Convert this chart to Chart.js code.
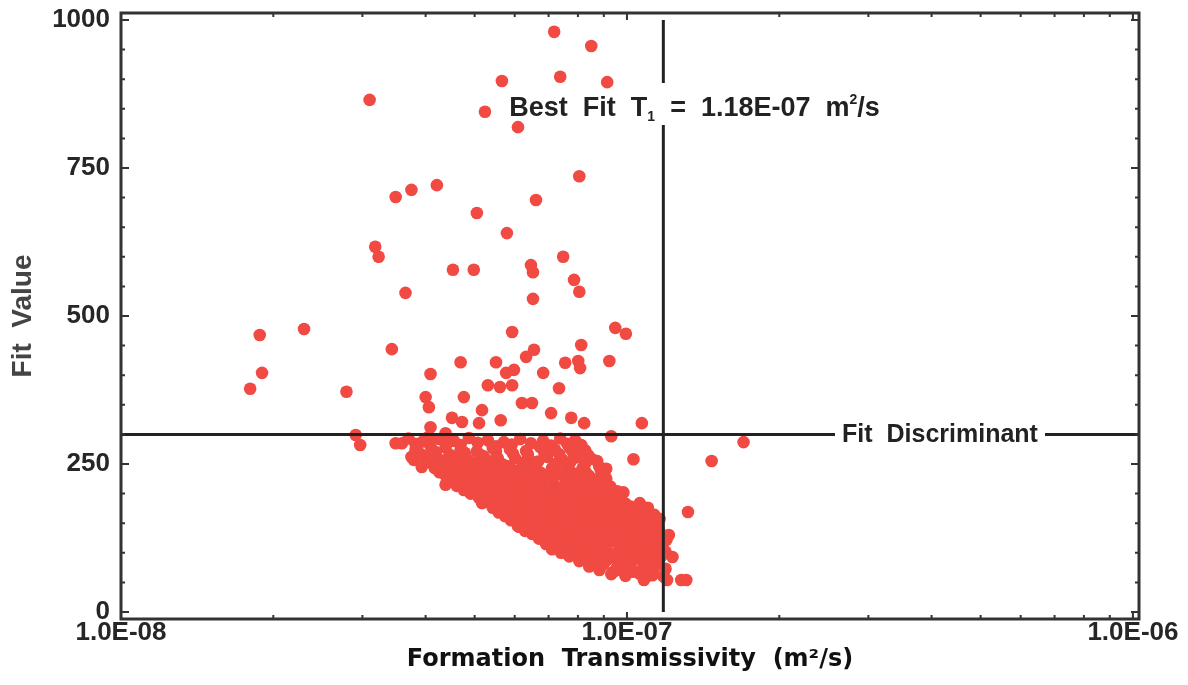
<!DOCTYPE html>
<html>
<head>
<meta charset="utf-8">
<script src="https://cdn.jsdelivr.net/npm/chart.js@4.4.0/dist/chart.umd.min.js"></script>
<style>
  html, body { margin: 0; padding: 0; background: #fff; }
</style>
</head>
<body>
<canvas id="grafico" width="1188" height="685"></canvas>
<script>
// axis ticks
const xTickValues = [1e-8, 1e-7, 1e-6];
const xTickLabels = ['1.0E-08', '1.0E-07', '1.0E-06'];
const yTickValues = [0, 250, 500, 750, 1000];

// reference lines
const bestFitT = 1.18e-7;
const fitDiscriminant = 300;

// scattered runs (m2/s, fit value)
const outlierT = [
  7.18e-8, 8.50e-8, 5.66e-8, 7.38e-8, 9.14e-8, 3.10e-8, 5.24e-8, 6.09e-8, 8.05e-8, 4.21e-8,
  3.75e-8, 3.49e-8, 6.61e-8, 5.05e-8, 5.79e-8, 3.18e-8, 3.23e-8, 7.48e-8, 4.53e-8, 4.98e-8,
  6.46e-8, 6.52e-8, 7.86e-8, 8.05e-8, 3.65e-8, 6.52e-8, 1.88e-8, 2.30e-8, 1.90e-8, 1.80e-8,
  3.43e-8, 2.79e-8, 5.93e-8, 9.48e-8, 9.95e-8, 8.12e-8, 4.69e-8, 5.51e-8, 6.55e-8, 6.32e-8,
  7.55e-8, 8.01e-8, 8.08e-8, 9.23e-8, 4.09e-8, 5.77e-8, 5.98e-8, 6.83e-8, 5.31e-8, 5.61e-8,
  5.93e-8, 7.34e-8, 4.00e-8, 4.76e-8, 4.06e-8, 5.17e-8, 5.63e-8, 5.10e-8, 4.51e-8, 4.72e-8,
  4.09e-8, 2.91e-8, 2.97e-8, 3.49e-8, 3.82e-8, 3.79e-8, 4.06e-8, 4.38e-8, 7.76e-8, 8.23e-8,
  1.07e-7, 9.31e-8, 1.70e-7, 1.47e-7, 1.03e-7, 9.10e-8, 1.32e-7, 1.06e-7, 1.10e-7, 1.21e-7,
  1.23e-7, 1.28e-7, 1.31e-7, 1.20e-7, 1.08e-7, 1.03e-7, 3.59e-8, 6.20e-8, 6.49e-8, 7.08e-8,
  3.75e-8, 3.93e-8, 4.38e-8, 4.80e-8, 5.17e-8, 6.12e-8, 7.24e-8, 8.31e-8, 9.53e-8, 1.09e-7
];
const outlierFit = [
  980, 956, 897, 904, 895, 865, 845, 819, 736, 721,
  713, 701, 696, 674, 640, 617, 600, 600, 578, 578,
  586, 574, 561, 541, 539, 529, 468, 478, 404, 377,
  444, 372, 473, 480, 470, 451, 422, 422, 443, 431,
  421, 424, 412, 424, 402, 404, 409, 404, 383, 380,
  383, 378, 363, 363, 346, 341, 324, 319, 328, 321,
  312, 299, 282, 285, 274, 257, 296, 302, 328, 319,
  319, 297, 287, 255, 258, 242, 169, 184, 176, 130,
  93, 54, 54, 54, 54, 68, 285, 353, 353, 336,
  262, 245, 215, 206, 184, 144, 110, 93, 71, 59
];

// dense band of runs
const cloudT = [
  3.70e-8, 3.95e-8, 4.26e-8, 4.55e-8, 4.87e-8, 5.31e-8, 5.71e-8, 6.15e-8, 6.83e-8, 7.38e-8, 7.90e-8,
  3.82e-8, 4.09e-8, 4.40e-8, 4.69e-8, 5.07e-8, 5.51e-8, 5.92e-8, 6.46e-8, 7.08e-8, 7.62e-8, 8.12e-8,
  3.84e-8, 4.11e-8, 4.38e-8, 4.69e-8, 5.05e-8, 5.43e-8, 5.87e-8, 6.32e-8, 6.73e-8, 7.21e-8, 7.72e-8, 8.27e-8,
  3.91e-8, 4.19e-8, 4.46e-8, 4.78e-8, 5.14e-8, 5.51e-8, 5.95e-8, 6.37e-8, 6.86e-8, 7.34e-8, 7.83e-8, 8.38e-8,
  3.98e-8, 4.25e-8, 4.53e-8, 4.85e-8, 5.21e-8, 5.56e-8, 6.01e-8, 6.43e-8, 6.95e-8, 7.44e-8, 7.94e-8, 8.50e-8,
  4.07e-8, 4.34e-8, 4.65e-8, 4.98e-8, 5.33e-8, 5.69e-8, 6.23e-8, 6.67e-8, 7.21e-8, 7.72e-8, 8.27e-8, 8.73e-8,
  4.17e-8, 4.44e-8, 4.76e-8, 5.10e-8, 5.43e-8, 5.82e-8, 6.20e-8, 6.61e-8, 7.11e-8, 7.62e-8, 8.16e-8, 8.82e-8,
  4.26e-8, 4.55e-8, 4.87e-8, 5.21e-8, 5.56e-8, 5.95e-8, 6.34e-8, 6.76e-8, 7.24e-8, 7.76e-8, 8.27e-8, 8.90e-8,
  4.38e-8, 4.67e-8, 5.00e-8, 5.33e-8, 5.69e-8, 6.06e-8, 6.49e-8, 6.92e-8, 7.38e-8, 7.86e-8, 8.42e-8, 8.98e-8,
  4.50e-8, 4.80e-8, 5.12e-8, 5.48e-8, 5.84e-8, 6.23e-8, 6.70e-8, 7.11e-8, 7.58e-8, 8.08e-8, 8.62e-8, 9.10e-8,
  4.61e-8, 4.94e-8, 5.26e-8, 5.61e-8, 5.98e-8, 6.34e-8, 6.76e-8, 7.21e-8, 7.69e-8, 8.19e-8, 8.73e-8, 9.27e-8,
  4.76e-8, 5.10e-8, 5.43e-8, 5.79e-8, 6.17e-8, 6.55e-8, 6.98e-8, 7.44e-8, 7.94e-8, 8.46e-8, 9.02e-8, 9.57e-8,
  4.91e-8, 5.24e-8, 5.58e-8, 5.95e-8, 6.34e-8, 6.76e-8, 7.21e-8, 7.69e-8, 8.19e-8, 8.73e-8, 9.35e-8, 9.84e-8,
  5.10e-8, 5.43e-8, 5.79e-8, 6.17e-8, 6.58e-8, 7.02e-8, 7.48e-8, 7.97e-8, 8.50e-8, 9.06e-8, 9.61e-8,
  5.26e-8, 5.61e-8, 5.98e-8, 6.37e-8, 6.79e-8, 7.24e-8, 7.72e-8, 8.23e-8, 8.77e-8, 9.31e-8, 9.93e-8,
  5.43e-8, 5.79e-8, 6.17e-8, 6.58e-8, 7.02e-8, 7.44e-8, 7.94e-8, 8.46e-8, 9.02e-8, 9.57e-8, 1.016e-7, 1.078e-7,
  5.58e-8, 5.95e-8, 6.34e-8, 6.76e-8, 7.21e-8, 7.65e-8, 8.16e-8, 8.70e-8, 9.23e-8, 9.84e-8, 1.039e-7, 1.108e-7,
  5.74e-8, 6.12e-8, 6.52e-8, 6.95e-8, 7.38e-8, 7.86e-8, 8.38e-8, 8.94e-8, 9.48e-8, 1.006e-7, 1.068e-7, 1.133e-7,
  5.90e-8, 6.29e-8, 6.70e-8, 7.14e-8, 7.58e-8, 8.08e-8, 8.62e-8, 9.14e-8, 9.70e-8, 1.029e-7, 1.098e-7, 1.160e-7,
  6.09e-8, 6.49e-8, 6.92e-8, 7.34e-8, 7.83e-8, 8.34e-8, 8.86e-8, 9.40e-8, 9.97e-8, 1.063e-7, 1.123e-7,
  6.29e-8, 6.70e-8, 7.14e-8, 7.58e-8, 8.08e-8, 8.58e-8, 9.14e-8, 9.70e-8, 1.029e-7, 1.093e-7, 1.155e-7,
  6.49e-8, 6.92e-8, 7.38e-8, 7.83e-8, 8.31e-8, 8.86e-8, 9.40e-8, 9.97e-8, 1.058e-7, 1.123e-7, 1.176e-7,
  6.70e-8, 7.14e-8, 7.58e-8, 8.05e-8, 8.58e-8, 9.10e-8, 9.66e-8, 1.025e-7, 1.088e-7, 1.155e-7, 1.197e-7,
  6.92e-8, 7.38e-8, 7.83e-8, 8.31e-8, 8.86e-8, 9.40e-8, 9.97e-8, 1.058e-7, 1.123e-7, 1.176e-7,
  7.11e-8, 7.58e-8, 8.05e-8, 8.58e-8, 9.10e-8, 9.66e-8, 1.025e-7, 1.088e-7, 1.155e-7,
  7.41e-8, 7.90e-8, 8.38e-8, 8.90e-8, 9.44e-8, 1.002e-7, 1.063e-7, 1.123e-7, 1.192e-7,
  7.69e-8, 8.19e-8, 8.70e-8, 9.27e-8, 9.84e-8, 1.044e-7, 1.108e-7, 1.171e-7,
  8.05e-8, 8.58e-8, 9.10e-8, 9.66e-8, 1.025e-7, 1.088e-7, 1.155e-7,
  8.42e-8, 8.98e-8, 9.57e-8, 1.016e-7, 1.078e-7, 1.143e-7,
  8.82e-8, 9.40e-8, 1.002e-7, 1.063e-7, 1.128e-7, 1.192e-7,
  9.31e-8, 9.93e-8, 1.058e-7, 1.123e-7, 1.181e-7
];
const cloudFit = [
  293, 288, 292, 289, 294, 290, 287, 292, 289, 293, 290,
  284, 281, 285, 282, 286, 280, 283, 285, 281, 284, 282,
  276, 273, 278, 274, 271, 277, 275, 272, 279, 274, 276, 273,
  267, 270, 266, 269, 265, 271, 268, 266, 270, 267, 269, 265,
  262, 258, 261, 257, 263, 259, 260, 256, 262, 258, 261, 259,
  253, 250, 254, 251, 255, 249, 252, 254, 250, 253, 251, 255,
  243, 247, 244, 248, 242, 246, 244, 249, 243, 246, 242, 245,
  236, 239, 235, 238, 234, 240, 237, 235, 239, 236, 238, 234,
  231, 228, 232, 229, 233, 227, 231, 229, 232, 228, 230, 233,
  223, 220, 224, 221, 225, 219, 222, 224, 220, 223, 221, 225,
  213, 217, 214, 216, 212, 218, 215, 213, 217, 214, 216, 212,
  206, 209, 205, 208, 204, 210, 207, 205, 209, 206, 208, 204,
  200, 197, 201, 198, 202, 196, 199, 201, 197, 200, 198, 202,
  193, 190, 194, 191, 195, 189, 192, 194, 190, 193, 191,
  186, 182, 185, 183, 187, 181, 184, 186, 182, 185, 183,
  176, 179, 175, 178, 174, 180, 177, 175, 179, 176, 178, 174,
  168, 171, 167, 170, 166, 172, 169, 167, 171, 168, 170, 166,
  162, 159, 163, 160, 164, 158, 161, 163, 159, 162, 160, 164,
  155, 152, 156, 153, 157, 151, 154, 156, 152, 155, 153, 157,
  145, 148, 144, 147, 143, 149, 146, 144, 148, 145, 147,
  137, 141, 138, 140, 136, 142, 139, 137, 141, 138, 140,
  132, 129, 133, 130, 134, 128, 131, 133, 129, 132, 130,
  124, 121, 125, 122, 126, 120, 123, 125, 121, 124, 122,
  115, 118, 114, 117, 113, 119, 116, 114, 118, 115,
  106, 110, 107, 109, 105, 111, 108, 106, 110,
  100, 103, 99, 102, 98, 104, 101, 99, 102,
  94, 91, 95, 92, 96, 90, 93, 95,
  86, 83, 87, 84, 88, 82, 85,
  77, 80, 76, 79, 75, 81,
  71, 68, 72, 69, 70, 73,
  64, 61, 65, 62, 60
];

const transmissivity = outlierT.concat(cloudT);
const fitValue = outlierFit.concat(cloudFit);
const points = transmissivity.map((t, i) => ({ x: t, y: fitValue[i] }));

const SANS = "'Liberation Sans', Arial, sans-serif";
const INK = '#262626';

function drawRuns(ctx, runs, x, y) {
  runs.forEach(r => {
    ctx.font = r.font;
    ctx.fillText(r.text, x, y + (r.dy || 0));
    x += ctx.measureText(r.text).width;
  });
}

// frame, inward ticks, best fit / discriminant lines and their labels
const overlay = {
  id: 'overlay',
  afterDatasetsDraw(chart) {
    const { ctx, chartArea: a, scales: { x, y } } = chart;
    ctx.save();
    ctx.strokeStyle = '#222';
    ctx.fillStyle = '#222';
    ctx.lineWidth = 3;

    // vertical best fit line with gap for the label
    const vx = x.getPixelForValue(bestFitT);
    const base = y.getPixelForValue(838);
    ctx.beginPath();
    ctx.moveTo(vx, y.getPixelForValue(1000));
    ctx.lineTo(vx, base - 33);
    ctx.moveTo(vx, base + 9);
    ctx.lineTo(vx, y.getPixelForValue(0));
    ctx.stroke();

    ctx.textBaseline = 'alphabetic';
    ctx.textAlign = 'left';
    const big = 'bold 27px ' + SANS, small = 'bold 14px ' + SANS;
    drawRuns(ctx, [
      { text: 'Best  Fit  T', font: big },
      { text: '1', font: small, dy: 5 },
      { text: '  =  1.18E-07  m', font: big },
      { text: '2', font: small, dy: -12 },
      { text: '/s', font: big }
    ], vx - 154, base);

    // horizontal discriminant line with gap for the label
    const hy = y.getPixelForValue(fitDiscriminant);
    const gapL = a.right - 304, gapR = a.right - 94;
    ctx.beginPath();
    ctx.moveTo(a.left, hy);
    ctx.lineTo(gapL, hy);
    ctx.moveTo(gapR, hy);
    ctx.lineTo(a.right, hy);
    ctx.stroke();
    ctx.font = 'bold 25px ' + SANS;
    ctx.textBaseline = 'middle';
    ctx.textAlign = 'center';
    ctx.fillText('Fit  Discriminant', (gapL + gapR) / 2, hy + 1);

    ctx.restore();
  },
  afterDraw(chart) {
    const { ctx, chartArea: a, scales: { x, y } } = chart;
    ctx.save();
    ctx.strokeStyle = '#333';
    ctx.lineWidth = 2;
    ctx.beginPath();
    for (let v = 0; v <= 1000; v += 50) {
      const py = y.getPixelForValue(v);
      const len = v % 250 === 0 ? 8 : 4;
      ctx.moveTo(a.left, py); ctx.lineTo(a.left + len, py);
      ctx.moveTo(a.right, py); ctx.lineTo(a.right - len, py);
    }
    [1e-8, 1e-7].forEach(dec => {
      for (let m = 1; m <= 10; m++) {
        const px = x.getPixelForValue(dec * m);
        const len = (m === 1 || m === 10) ? 7 : 4;
        ctx.moveTo(px, a.bottom); ctx.lineTo(px, a.bottom - len);
        ctx.moveTo(px, a.top); ctx.lineTo(px, a.top + len);
      }
    });
    ctx.stroke();
    ctx.lineWidth = 3;
    ctx.strokeRect(a.left, a.top, a.right - a.left, a.bottom - a.top);
    ctx.restore();
  }
};

new Chart(document.getElementById('grafico'), {
  type: 'scatter',
  data: {
    datasets: [{
      data: points,
      backgroundColor: '#f04a42',
      borderWidth: 0,
      pointRadius: 6.3,
      pointHoverRadius: 6.3
    }]
  },
  options: {
    responsive: false,
    animation: false,
    devicePixelRatio: 1,
    layout: { padding: { left: 6, right: 49, top: 13, bottom: 6 } },
    plugins: { legend: { display: false }, tooltip: { enabled: false } },
    scales: {
      x: {
        type: 'logarithmic',
        position: 'bottom',
        min: 1e-8,
        max: 1.028e-6,
        afterBuildTicks: s => { s.ticks = xTickValues.map(v => ({ value: v })); },
        afterFit: s => { s.height = 60; },
        grid: { display: false, drawTicks: false },
        border: { display: false },
        ticks: {
          autoSkip: false, maxRotation: 0, minRotation: 0, padding: 1,
          color: INK,
          font: { family: SANS, size: 26, weight: 'bold', lineHeight: 1 },
          callback: (v, i) => xTickLabels[i]
        },
        title: {
          display: true,
          text: 'Formation  Transmissivity  (m²/s)',
          color: '#111',
          font: { family: "'DejaVu Sans', sans-serif", size: 24, weight: 'bold', lineHeight: 1.2 },
          padding: { top: 0, bottom: 5 }
        }
      },
      y: {
        min: -11.8,
        max: 1011.8,
        afterBuildTicks: s => { s.ticks = yTickValues.map(v => ({ value: v })); },
        afterFit: s => { s.width = 115; },
        grid: { display: false, drawTicks: true, tickLength: 11 },
        border: { display: false },
        ticks: {
          padding: 0,
          color: INK,
          font: { family: SANS, size: 26, weight: 'bold', lineHeight: 1 },
          callback: v => String(v)
        },
        title: {
          display: true,
          text: 'Fit  Value',
          color: '#444',
          font: { family: SANS, size: 28, weight: 'bold', lineHeight: 1.2 },
          padding: { top: 0, bottom: 0 }
        }
      }
    }
  },
  plugins: [overlay]
});
</script>
</body>
</html>
